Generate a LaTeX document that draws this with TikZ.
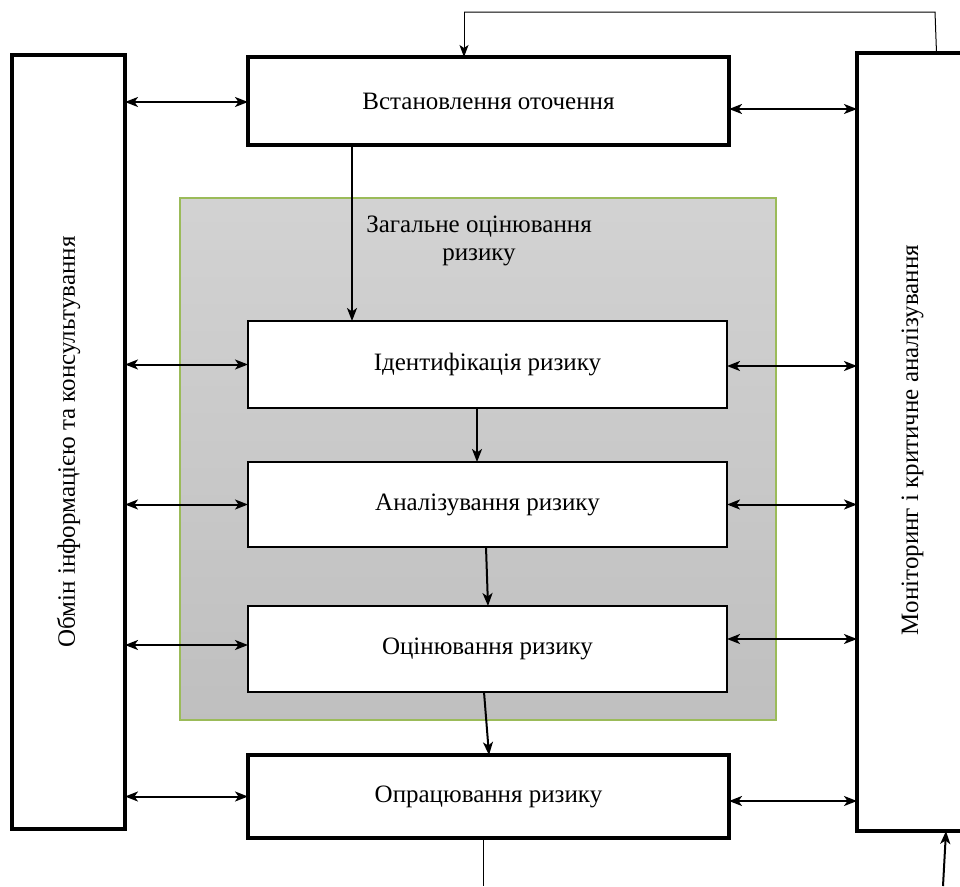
\documentclass[tikz,border=0pt]{standalone}
\usepackage{fontspec}
\setmainfont{Liberation Serif}
\usetikzlibrary{arrows.meta}
\begin{document}
\begin{tikzpicture}[x=1pt,y=-1pt,
  font=\fontsize{25}{28}\selectfont,
  outerbox/.style={draw=black,line width=3.5pt,fill=white,inner sep=0pt,outer sep=0pt},
  innerbox/.style={draw=black,line width=2.5pt,fill=white,inner sep=0pt,outer sep=0pt},
  flow/.style={line width=2pt,-{Stealth[length=13pt,width=10pt,inset=3.5pt]}},
  link/.style={line width=2pt,{Stealth[length=13pt,width=10pt,inset=3.5pt]}-{Stealth[length=13pt,width=10pt,inset=3.5pt]}},
  thinline/.style={line width=1pt}]
  \useasboundingbox (0,0) rectangle (960,886);
  \clip (0,0) rectangle (960,886);

  % shaded area of the overall risk assessment
  \shade[top color=gray!35,bottom color=gray!50] (180,198) rectangle (776,720);
  \draw[color={rgb,255:red,155;green,187;blue,89},line width=1.5pt] (180,198) rectangle (776,720);
  \node[align=center] (zag) at (479,241) {Загальне оцінювання\\ризику};

  % side boxes
  \node[outerbox,minimum width=113pt,minimum height=774pt] (ob) at (68.5,442) {};
  \node[rotate=90] at (ob.center) {Обмін інформацією та консультування};
  \node[outerbox,minimum width=111pt,minimum height=778pt] (mon) at (912.5,442) {};
  \node[rotate=90] at ([yshift=2pt]mon.center) {Моніторинг і критичне аналізування};

  % process steps
  \node[outerbox,minimum width=481pt,minimum height=88pt] (vst) at (488.5,101) {Встановлення оточення};
  \node[innerbox,minimum width=479pt,minimum height=87pt] (id) at (487.5,364.5) {Ідентифікація ризику};
  \node[innerbox,minimum width=479pt,minimum height=85pt] (an) at (487.5,504.5) {Аналізування ризику};
  \node[innerbox,minimum width=479pt,minimum height=86pt] (oc) at (487.5,649) {Оцінювання ризику};
  \node[outerbox,minimum width=481pt,minimum height=83pt] (op) at (488.5,796.5) {Опрацювання ризику};

  % flow between steps
  \draw[flow] ([xshift=-136.5pt]vst.south) -- ([xshift=-135.5pt]id.north);
  \draw[flow] ([xshift=-10.5pt]id.south) -- ([xshift=-10.5pt]an.north);
  \draw[flow] ([xshift=-1.5pt]an.south) -- ([xshift=0.5pt]oc.north);
  \draw[flow] ([xshift=-3.5pt]oc.south) -- ([xshift=0.5pt]op.north);

  % links to the side boxes
  \draw[link] ([yshift=-1pt]ob.east |- vst.west) -- ([yshift=-1pt]vst.west);
  \draw[link] ([yshift=-8pt]vst.east) -- ([yshift=-8pt]mon.west |- vst.east);
  \draw[link] (ob.east |- id.west) -- (id.west);
  \draw[link] ([yshift=-1.5pt]id.east) -- ([yshift=-1.5pt]mon.west |- id.east);
  \draw[link] (ob.east |- an.west) -- (an.west);
  \draw[link] (an.east) -- (mon.west |- an.east);
  \draw[link] ([yshift=4pt]ob.east |- oc.west) -- ([yshift=4pt]oc.west);
  \draw[link] ([yshift=10pt]oc.east) -- ([yshift=10pt]mon.west |- oc.east);
  \draw[link] (ob.east |- op.west) -- (op.west);
  \draw[link] ([yshift=-4.5pt]op.east) -- ([yshift=-4.5pt]mon.west |- op.east);

  % feedback from monitoring back to the context
  \coordinate (fbR) at (935,12);
  \coordinate (fbL) at (464,12);
  \draw[thinline] ([xshift=24pt]mon.north) -- (fbR) -- (fbL);
  \draw[thinline,-{Stealth[length=12pt,width=9pt,inset=3pt]}] (fbL) -- ([xshift=-24.5pt]vst.north);

  % open ends at the bottom
  \coordinate (opOut) at (483,886);
  \draw[thinline] ([xshift=-5.5pt]op.south) -- (opOut);
  \coordinate (monIn) at (943,886);
  \draw[flow] (monIn) -- ([xshift=33.5pt]mon.south);
\end{tikzpicture}
\end{document}
